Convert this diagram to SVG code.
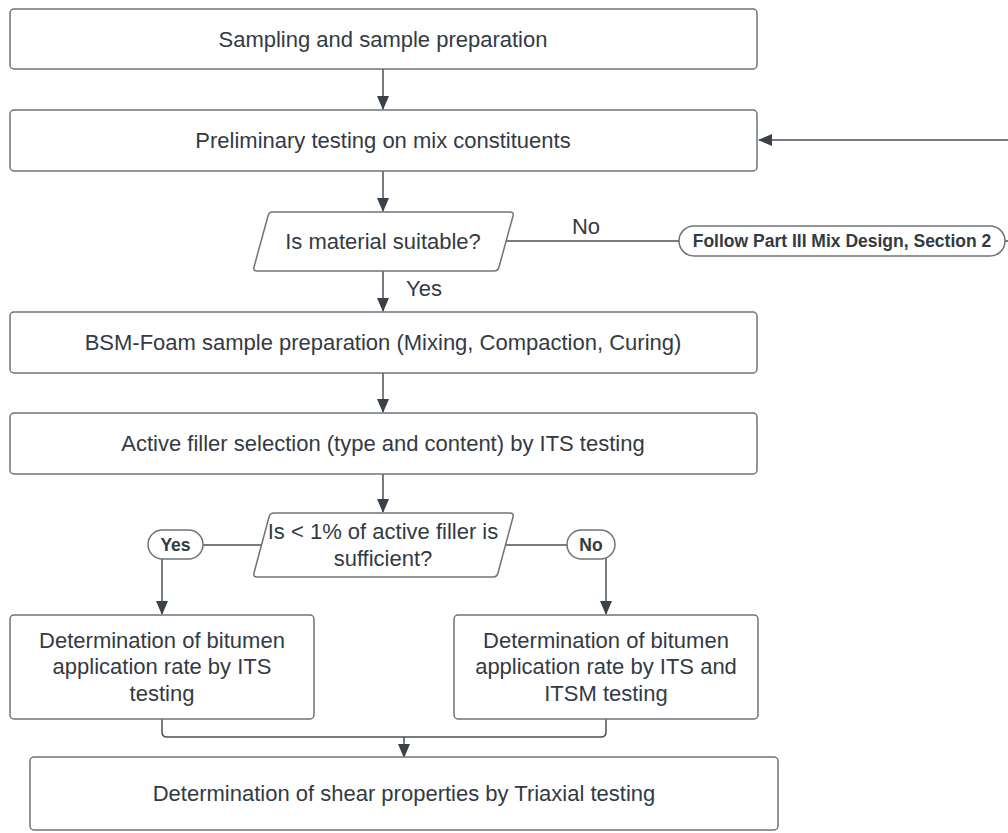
<svg xmlns="http://www.w3.org/2000/svg" width="1008" height="833" viewBox="0 0 1008 833">
<defs>
<marker id="ah" markerWidth="14" markerHeight="12" refX="13" refY="6" orient="auto" markerUnits="userSpaceOnUse">
<path d="M0,0 L14,6 L0,12 Z" fill="#3a414b"/>
</marker>
<style>
.box{fill:#ffffff;stroke:#6f7379;stroke-width:1.5}
.t{font-family:"Liberation Sans",Arial,sans-serif;font-size:22px;fill:#333a44;text-anchor:middle}
.b{font-family:"Liberation Sans",Arial,sans-serif;font-size:17.5px;font-weight:bold;fill:#333a44;text-anchor:middle}
.c{fill:none;stroke:#4a5058;stroke-width:1.5}
.a{fill:none;stroke:#4a5058;stroke-width:1.5;marker-end:url(#ah)}
</style>
</defs>
<rect width="1008" height="833" fill="#ffffff"/>
<g id="connectors">
<line class="a" x1="383" y1="69" x2="383" y2="109"/>
<line class="a" x1="383" y1="171" x2="383" y2="211"/>
<line class="a" x1="1008" y1="140" x2="759" y2="140"/>
<line class="c" x1="505" y1="241" x2="679" y2="241"/>
<line class="c" x1="1005" y1="241" x2="1008" y2="241"/>
<text class="t" x="586" y="234">No</text>
<line class="a" x1="383" y1="271" x2="383" y2="311"/>
<text class="t" x="424" y="296">Yes</text>
<line class="a" x1="383" y1="373" x2="383" y2="412"/>
<line class="a" x1="383" y1="474" x2="383" y2="512"/>
<line class="c" x1="261" y1="545" x2="203" y2="545"/>
<line class="a" x1="162" y1="559" x2="162" y2="614"/>
<line class="c" x1="505" y1="545" x2="567" y2="545"/>
<line class="a" x1="606" y1="558" x2="606" y2="614"/>
<path class="c" d="M162,719 V732 Q162,737 167,737 H601 Q606,737 606,732 V719"/>
<line class="a" x1="404" y1="737" x2="404" y2="757"/>
</g>
<g id="n1"><rect class="box" x="10" y="9" width="747" height="60" rx="4"/><text class="t" x="383" y="47">Sampling and sample preparation</text></g>
<g id="n2"><rect class="box" x="10" y="110" width="747" height="61" rx="4"/><text class="t" x="383" y="148">Preliminary testing on mix constituents</text></g>
<g id="d1"><path class="box" d="M272,212 H510 Q514,212 513,216 L499,267 Q498,271 494,271 H257 Q253,271 254,267 L268,216 Q269,212 272,212 Z"/><text class="t" x="383" y="249">Is material suitable?</text></g>
<g id="p1"><rect class="box" x="679" y="226" width="326" height="30" rx="15"/><text class="b" x="842" y="247">Follow Part III Mix Design, Section 2</text></g>
<g id="n3"><rect class="box" x="10" y="312" width="747" height="61" rx="4"/><text class="t" x="383" y="350">BSM-Foam sample preparation (Mixing, Compaction, Curing)</text></g>
<g id="n4"><rect class="box" x="10" y="413" width="747" height="61" rx="4"/><text class="t" x="383" y="451">Active filler selection (type and content) by ITS testing</text></g>
<g id="d2"><path class="box" d="M274,513 H510 Q514,513 513,517 L498,573 Q497,577 493,577 H257 Q253,577 254,573 L269,517 Q270,513 274,513 Z"/><text class="t" x="383" y="539">Is &lt; 1% of active filler is</text><text class="t" x="383" y="566">sufficient?</text></g>
<g id="yes"><rect class="box" x="148" y="530" width="55" height="29" rx="14.5"/><text class="b" x="175.5" y="551">Yes</text></g>
<g id="no"><rect class="box" x="567" y="530" width="48" height="29" rx="14.5"/><text class="b" x="591" y="551">No</text></g>
<g id="n5"><rect class="box" x="10" y="615" width="304" height="104" rx="4"/><text class="t" x="162" y="648">Determination of bitumen</text><text class="t" x="162" y="674">application rate by ITS</text><text class="t" x="162" y="701">testing</text></g>
<g id="n6"><rect class="box" x="454" y="615" width="304" height="104" rx="4"/><text class="t" x="606" y="648">Determination of bitumen</text><text class="t" x="606" y="674">application rate by ITS and</text><text class="t" x="606" y="701">ITSM testing</text></g>
<g id="n7"><rect class="box" x="30" y="757" width="748" height="73" rx="4"/><text class="t" x="404" y="801">Determination of shear properties by Triaxial testing</text></g>
</svg>
